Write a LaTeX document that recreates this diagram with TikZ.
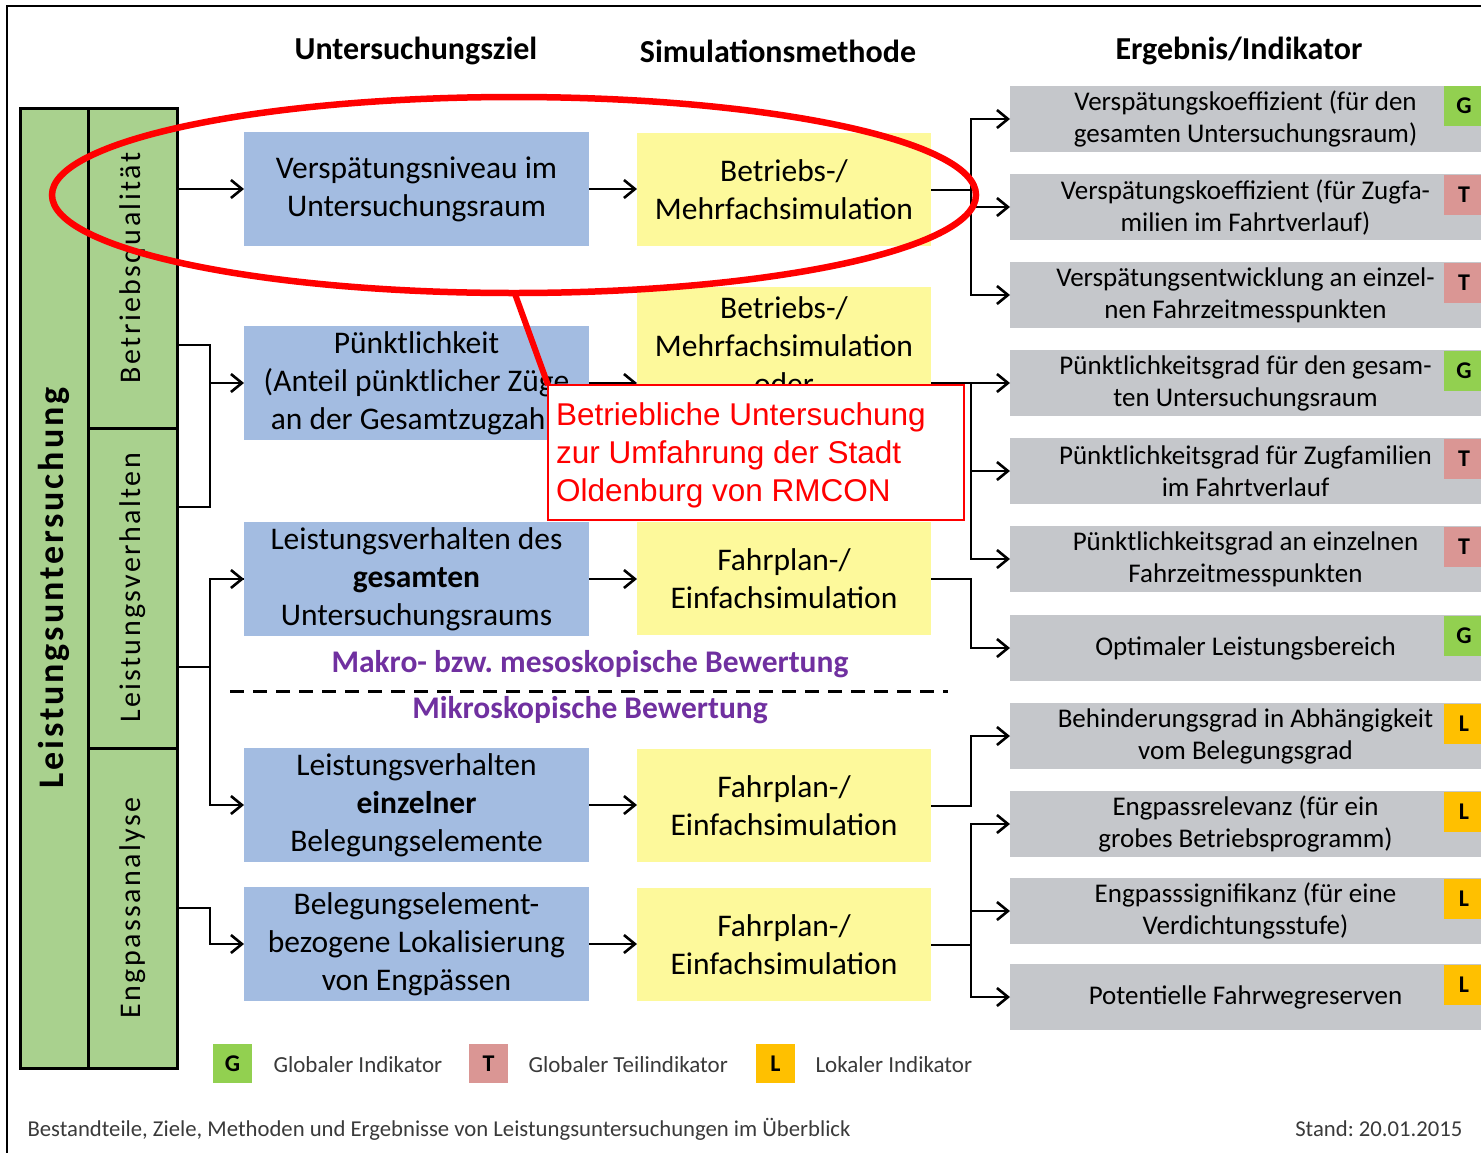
\documentclass[tikz,border=0pt]{standalone}
\usepackage{fontspec}
\setmainfont{Carlito}
\newfontfamily\arialf{Liberation Sans}
\newfontfamily\spacedf[LetterSpace=8]{Carlito}
\usetikzlibrary{arrows.meta}
\definecolor{gcol}{HTML}{A9D18E}
\definecolor{bcol}{HTML}{A3BCE1}
\definecolor{ycol}{HTML}{FDF99B}
\definecolor{gycol}{HTML}{C5C7CB}
\definecolor{badgeG}{HTML}{92D050}
\definecolor{badgeT}{HTML}{DA9694}
\definecolor{badgeL}{HTML}{FFC000}
\definecolor{purp}{HTML}{7030A0}
\definecolor{dgray}{HTML}{3A3A3A}
\frenchspacing
\begin{document}
\begin{tikzpicture}[x=1pt,y=-1pt,
  box/.style={inner sep=0pt, outer sep=0pt, anchor=north west, align=center, font=\fontsize{31.5}{38}\selectfont},
  bluebox/.style={box, fill=bcol, minimum width=345pt, minimum height=114pt},
  yelbox/.style={box, fill=ycol, minimum width=294pt, minimum height=113pt},
  greybox/.style={box, fill=gycol, minimum width=471pt, minimum height=66pt, font=\fontsize{27}{32}\selectfont},
  greenbox/.style={box, fill=gcol, draw=black, line width=3pt},
  badge/.style={inner sep=0pt, outer sep=0pt, minimum width=40pt, minimum height=40pt, anchor=north west, font=\bfseries\fontsize{24}{24}\selectfont},
  conn/.style={line width=2.6pt},
  arr/.style={conn, -{Straight Barb[length=11pt,width=18pt]}},
  hdr/.style={font=\bfseries\fontsize{32}{36}\selectfont},
  sect/.style={font=\bfseries\fontsize{31.5}{36}\selectfont, text=purp},
  legtxt/.style={anchor=west, font=\fontsize{23}{26}\selectfont, text=dgray},
  captxt/.style={font=\fontsize{22.7}{26}\selectfont, text=dgray}
]
\useasboundingbox (0,0) rectangle (1481,1152);
\clip (0,0) rectangle (1481,1152);
\fill[white] (0,0) rectangle (1481,1152);
\draw[line width=2pt] (7,1170) -- (7,6) -- (1500,6);

% headers
\node[hdr] (h1) at (416,51) {Untersuchungsziel};
\node[hdr] (h2) at (778,51) {Simulationsmethode};
\node[hdr] (h3) at (1239,51) {Ergebnis/Indikator};

% green column
\node[greenbox, minimum width=68pt, minimum height=960pt] (GL) at (20,108) {};
\node[greenbox, minimum width=89pt, minimum height=320pt] (GB) at (88,108) {};
\node[greenbox, minimum width=89pt, minimum height=320pt] (GLv) at (88,428) {};
\node[greenbox, minimum width=89pt, minimum height=320pt] (GE) at (88,748) {};
\node[rotate=90, font=\spacedf\bfseries\fontsize{36}{40}\selectfont] (tGL) at (GL.center) {Leistungsuntersuchung};
\node[rotate=90, font=\spacedf\fontsize{30}{36}\selectfont] (tGB) at (GB.center) {Betriebsqualität};
\node[rotate=90, font=\spacedf\fontsize{30}{36}\selectfont] (tGLv) at (GLv.center) {Leistungsverhalten};
\node[rotate=90, font=\spacedf\fontsize{30}{36}\selectfont] (tGE) at (GE.center) {Engpassanalyse};

% blue boxes
\node[bluebox] (B1) at (244,132) {Verspätungsniveau im\\Untersuchungsraum};
\node[bluebox] (B2) at (244,326) {Pünktlichkeit\\(Anteil pünktlicher Züge\\an der Gesamtzugzahl)};
\node[bluebox] (B3) at (244,522) {Leistungsverhalten des\\\textbf{gesamten}\\Untersuchungsraums};
\node[bluebox] (B4) at (244,748) {Leistungsverhalten\\\textbf{einzelner}\\Belegungselemente};
\node[bluebox] (B5) at (244,887) {Belegungselement-\\bezogene Lokalisierung\\von Engpässen};

% yellow boxes
\node[yelbox] (Y1) at (637,133) {Betriebs-/\\Mehrfachsimulation};
\node[yelbox, minimum height=192pt] (Y2) at (637,287) {};
\node[font=\fontsize{31.5}{38}\selectfont, align=center, inner sep=0pt] (tY2) at (784,346) {Betriebs-/\\Mehrfachsimulation\\oder};
\node[yelbox] (Y3) at (637,522) {Fahrplan-/\\Einfachsimulation};
\node[yelbox] (Y4) at (637,749) {Fahrplan-/\\Einfachsimulation};
\node[yelbox] (Y5) at (637,888) {Fahrplan-/\\Einfachsimulation};

% grey result boxes
\node[greybox] (R1) at (1010,86) {Verspätungskoeffizient (für den\\gesamten Untersuchungsraum)};
\node[greybox] (R2) at (1010,174) {Verspätungskoeffizient (für Zugfa-\\milien im Fahrtverlauf)};
\node[greybox] (R3) at (1010,262) {Verspätungsentwicklung an einzel-\\nen Fahrzeitmesspunkten};
\node[greybox] (R4) at (1010,350) {Pünktlichkeitsgrad für den gesam-\\ten Untersuchungsraum};
\node[greybox] (R5) at (1010,438) {Pünktlichkeitsgrad für Zugfamilien\\im Fahrtverlauf};
\node[greybox] (R6) at (1010,526) {Pünktlichkeitsgrad an einzelnen\\Fahrzeitmesspunkten};
\node[greybox] (R7) at (1010,615) {Optimaler Leistungsbereich};
\node[greybox] (R8) at (1010,703) {Behinderungsgrad in Abhängigkeit\\vom Belegungsgrad};
\node[greybox] (R9) at (1010,791) {Engpassrelevanz (für ein\\grobes Betriebsprogramm)};
\node[greybox] (R10) at (1010,878) {Engpasssignifikanz (für eine\\Verdichtungsstufe)};
\node[greybox] (R11) at (1010,964) {Potentielle Fahrwegreserven};

% badges
\node[badge, fill=badgeG] (bR1) at (1444,86) {G};
\node[badge, fill=badgeT] (bR2) at (1444,175) {T};
\node[badge, fill=badgeT] (bR3) at (1444,263) {T};
\node[badge, fill=badgeG] (bR4) at (1444,351) {G};
\node[badge, fill=badgeT] (bR5) at (1444,439) {T};
\node[badge, fill=badgeT] (bR6) at (1444,527) {T};
\node[badge, fill=badgeG] (bR7) at (1444,616) {G};
\node[badge, fill=badgeL] (bR8) at (1444,704) {L};
\node[badge, fill=badgeL] (bR9) at (1444,792) {L};
\node[badge, fill=badgeL] (bR10) at (1444,879) {L};
\node[badge, fill=badgeL] (bR11) at (1444,965) {L};

% connectors left
\draw[arr] (GB.east |- B1.west) -- (B1.west);
\coordinate (j2) at (210,383);
\draw[conn] (GB.east |- 0,345) -| (j2) |- (GLv.east |- 0,507);
\draw[arr] (j2) -- (B2.west);
\coordinate (j3) at (210,667);
\draw[conn] (GLv.east |- j3) -- (j3);
\draw[conn] (j3) |- (B3.west);
\draw[arr] (j3 |- B3.west) -- (B3.west);
\draw[arr] (j3) |- (B4.west);
\coordinate (j5) at (210,908);
\draw[arr] (GE.east |- j5) -- (j5) |- (B5.west);

% connectors middle
\draw[arr] (B1.east) -- (Y1.west |- B1.east);
\draw[arr] (B2.east) -- (Y2.west |- B2.east);
\draw[arr] (B3.east) -- (Y3.west |- B3.east);
\draw[arr] (B4.east) -- (Y4.west |- B4.east);
\draw[arr] (B5.east) -- (Y5.west |- B5.east);

% connectors right
\coordinate (k1) at (971,190);
\draw[conn] (Y1.east |- k1) -- (k1);
\draw[arr] (k1) |- (R1.west);
\draw[arr] (k1) -- (R2.west -| k1) -- (R2.west);
\draw[arr] (k1) |- (R3.west);
\coordinate (k2) at (971,383);
\draw[conn] (Y2.east |- k2) -- (k2);
\draw[arr] (k2) -- (R4.west);
\draw[arr] (k2) |- (R5.west);
\draw[arr] (k2) |- (R6.west);
\coordinate (k3) at (971,579);
\draw[arr] (Y3.east |- k3) -- (k3) |- (R7.west);
\coordinate (k4) at (971,806);
\draw[arr] (Y4.east |- k4) -- (k4) |- (R8.west);
\coordinate (k5) at (971,945);
\draw[conn] (Y5.east |- k5) -- (k5);
\draw[arr] (k5) |- (R9.west);
\draw[arr] (k5) |- (R10.west);
\draw[arr] (k5) |- (R11.west);

% section labels
\node[sect] (mak) at (590,664) {Makro- bzw. mesoskopische Bewertung};
\draw[line width=3pt, dash pattern=on 14pt off 9pt] (230,691) -- (948,691);
\node[sect] (mik) at (590,710) {Mikroskopische Bewertung};

% legend
\node[badge, minimum width=39pt, minimum height=39pt, fill=badgeG] (lg) at (213,1044) {G};
\node[legtxt] (lgt) at (270,1065) {Globaler Indikator};
\node[badge, minimum width=39pt, minimum height=39pt, fill=badgeT] (lt) at (469,1044) {T};
\node[legtxt] (ltt) at (525,1065) {Globaler Teilindikator};
\node[badge, minimum width=39pt, minimum height=39pt, fill=badgeL] (ll) at (756,1044) {L};
\node[legtxt] (llt) at (812,1065) {Lokaler Indikator};

% caption
\node[captxt, anchor=west] (cap) at (24,1129) {Bestandteile, Ziele, Methoden und Ergebnisse von Leistungsuntersuchungen im Überblick};
\node[captxt, anchor=east] (stand) at (1466,1129) {Stand: 20.01.2015};

% red annotation
\draw[red, line width=6.5pt] (514,195) ellipse [x radius=462pt, y radius=98pt];
\coordinate (ep) at (515,294);
\node[draw=red, line width=1.5pt, fill=white, inner sep=0pt, outer sep=0pt, anchor=north west, minimum width=416pt, minimum height=135pt] (CO) at (548,385) {};
\draw[red, line width=6pt] (ep) -- (CO.north west);
\node[anchor=west, align=left, inner sep=0pt, text=red, font=\arialf\fontsize{31.5}{38}\selectfont] (COt) at (556,455) {Betriebliche Untersuchung\\zur Umfahrung der Stadt\\Oldenburg von RMCON};
\end{tikzpicture}
\end{document}
